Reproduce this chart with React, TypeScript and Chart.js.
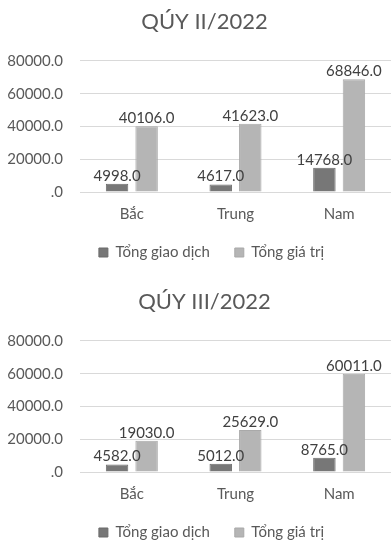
import React, { useEffect, useRef } from "react";
import { Chart, registerables } from "chart.js";

Chart.register(...registerables);

const categories = ["Bắc", "Trung", "Nam"];
const seriesNames = ["Tổng giao dịch", "Tổng giá trị"];
const q2Transactions = [4998, 4617, 14768];
const q2Values = [40106, 41623, 68846];
const q3Transactions = [4582, 5012, 8765];
const q3Values = [19030, 25629, 60011];
const titles = ["QÚY II/2022", "QÚY III/2022"];
const yMax = 80000;
const yStep = 20000;

const FONT = "Lato, 'Open Sans', sans-serif";
const DARK = "#777777";
const LIGHT = "#b5b5b5";

const labelPlugin = {
  id: "valueLabels",
  afterLayout(chart: any) {
    const lg = chart.legend;
    if (lg) {
      lg.top -= 16;
      lg.bottom -= 16;
      lg.left += 16;
      lg.right += 16;
    }
    const tt = chart.titleBlock;
    if (tt) {
      tt.left += 9;
      tt.right += 9;
    }
  },
  afterDatasetsDraw(chart: any) {
    const ctx = chart.ctx;
    ctx.save();
    ctx.font = `15px ${FONT}`;
    ctx.fillStyle = "#404040";
    ctx.textAlign = "center";
    ctx.textBaseline = "alphabetic";
    chart.data.datasets.forEach((ds: any, i: number) => {
      const meta = chart.getDatasetMeta(i);
      meta.data.forEach((el: any, j: number) => {
        const v = ds.data[j] as number;
        ctx.fillText(v.toFixed(1), el.x, el.y - 3);
      });
    });
    ctx.restore();
  },
};

function BarChart({ title, a, b }: { title: string; a: number[]; b: number[] }) {
  const ref = useRef<HTMLCanvasElement | null>(null);
  useEffect(() => {
    if (!ref.current) return;
    const chart = new Chart(ref.current, {
      type: "bar",
      data: {
        labels: categories,
        datasets: [
          {
            label: seriesNames[0],
            data: a,
            backgroundColor: DARK,
            borderColor: "#6b6b6b",
            borderWidth: 1,
            barPercentage: 0.76,
            categoryPercentage: 0.57,
          },
          {
            label: seriesNames[1],
            data: b,
            backgroundColor: LIGHT,
            borderColor: "#a9a9a9",
            borderWidth: 1,
            barPercentage: 0.76,
            categoryPercentage: 0.57,
          },
        ],
      },
      options: {
        animation: false,
        responsive: false,
        maintainAspectRatio: false,
        layout: { padding: { left: 0, right: 0, top: 0, bottom: 0 } },
        plugins: {
          title: {
            display: true,
            text: title,
            color: "#595959",
            font: { family: FONT, size: 22, weight: "normal" },
            padding: { top: 9, bottom: 25.5 },
          },
          legend: {
            position: "bottom",
            labels: {
              color: "#595959",
              font: { family: FONT, size: 15 },
              boxWidth: 9,
              boxHeight: 9,
              padding: 25,
            },
          },
          tooltip: { enabled: false },
        },
        scales: {
          x: {
            grid: { display: false, drawTicks: false },
            border: { display: false },
            ticks: {
              color: "#595959",
              font: { family: FONT, size: 15 },
              padding: 13,
            },
          },
          y: {
            min: 0,
            max: yMax,
            afterFit: (scale: any) => {
              scale.width = 80;
            },
            grid: { color: "#d9d9d9", lineWidth: 1, drawTicks: false },
            border: { display: false },
            ticks: {
              stepSize: yStep,
              color: "#595959",
              font: { family: FONT, size: 15 },
              padding: 17,
              callback: (v: any) => (Number(v) === 0 ? ".0" : Number(v).toFixed(1)),
            },
          },
        },
      },
      plugins: [labelPlugin],
    });
    return () => chart.destroy();
  }, [title, a, b]);
  return <canvas ref={ref} width={391} height={286} style={{ display: "block", width: 391, height: 286 }} />;
}

export default function App() {
  return (
    <div style={{ position: "fixed", left: 0, top: 0, width: 391, height: 540, background: "#ffffff", overflow: "hidden" }}>
      <div style={{ position: "absolute", left: 0, top: 0 }}>
        <BarChart title={titles[0]} a={q2Transactions} b={q2Values} />
      </div>
      <div style={{ position: "absolute", left: 0, top: 280 }}>
        <BarChart title={titles[1]} a={q3Transactions} b={q3Values} />
      </div>
    </div>
  );
}
